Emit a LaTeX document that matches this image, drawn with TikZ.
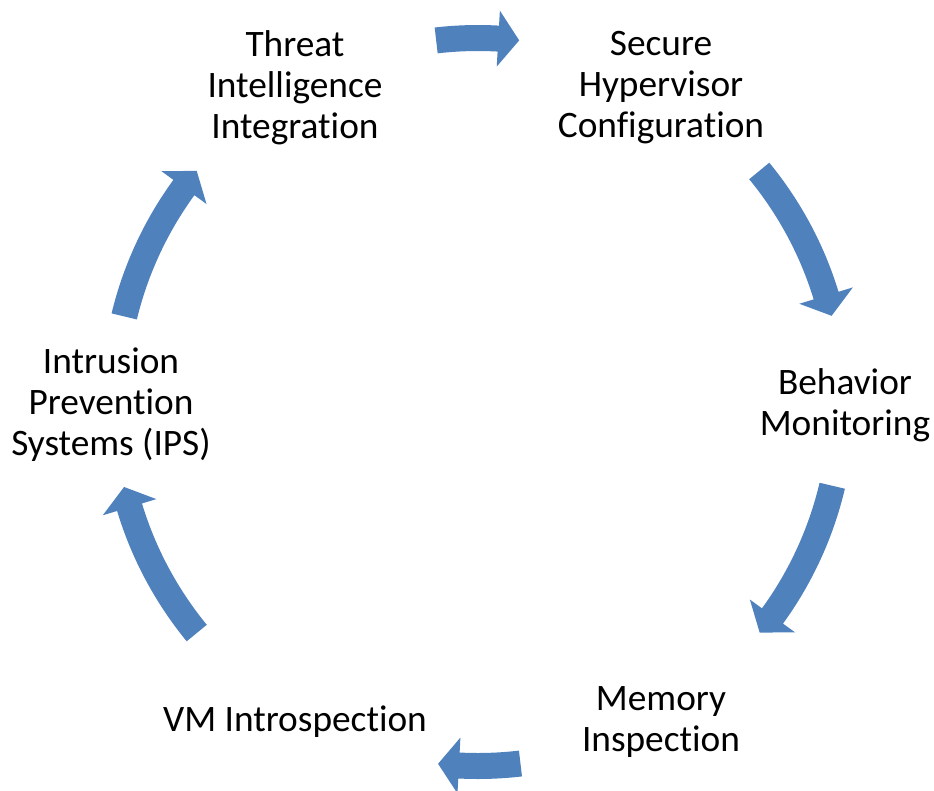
\documentclass[tikz,border=0pt]{standalone}
\usepackage{fontspec}
\setmainfont[Ligatures=NoCommon]{Carlito}
\definecolor{arrowblue}{RGB}{79,129,189}
\newcommand\cyclearrow[2]{%
  \pgfmathsetmacro\hb{#2+3.3}%
  \fill[arrowblue] (#1:377) arc[start angle=#1, end angle=\hb, radius=377]
    -- (\hb:392) -- (#2:364) -- (\hb:336) -- (\hb:351)
    arc[start angle=\hb, end angle=#1, radius=351] -- cycle;}
\begin{document}
\begin{tikzpicture}[x=0.75pt,y=0.75pt,
  steplabel/.style={align=center,font=\fontsize{28}{30.75}\selectfont,inner sep=0pt,yshift=-2.25pt}]
\useasboundingbox (-478,-388) rectangle (456,402);
\node[steplabel] (threat) at (120:366) {Threat\\Intelligence\\Integration};
\node[steplabel] (secure) at (60:366) {Secure\\Hypervisor\\Configuration};
\node[steplabel] (behavior) at (0:367) {Behavior\\Monitoring};
\node[steplabel] (memory) at (-60:366) {Memory\\Inspection};
\node[steplabel] (vm) at (-120:366) {VM Introspection};
\node[steplabel] (ips) at (180:367) {Intrusion\\Prevention\\Systems (IPS)};
\cyclearrow{96.6}{83.5}
\cyclearrow{39.4}{13.7}
\cyclearrow{-13.3}{-39.3}
\cyclearrow{-83.3}{-96.3}
\cyclearrow{-140.6}{-166.5}
\cyclearrow{166.4}{140.6}
\end{tikzpicture}
\end{document}
